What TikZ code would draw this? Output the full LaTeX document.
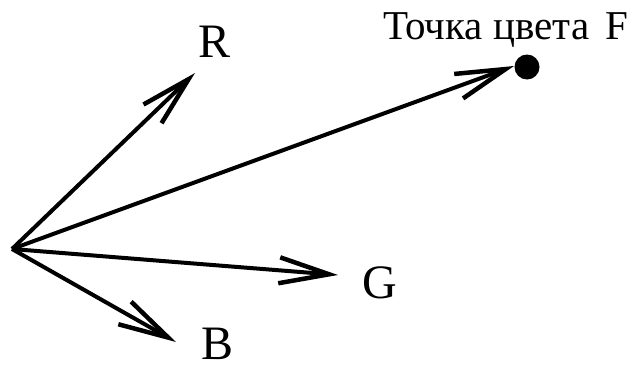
\documentclass[tikz,border=0pt]{standalone}
\usepackage{fontspec}
\setmainfont{Liberation Serif}
\usetikzlibrary{arrows.meta}
\begin{document}
\begin{tikzpicture}[x=1pt,y=-1pt,
  vec/.style={line width=4pt,-{Straight Barb[length=50pt,width=26pt,line width=4.5pt]}},
  big/.style={font=\fontsize{48}{48}\selectfont,inner sep=0pt},
  small/.style={font=\fontsize{41}{41}\selectfont,inner sep=0pt}]
  \useasboundingbox (0,0) rectangle (637,372);
  \coordinate (o) at (12,249);
  \coordinate (rt) at (195,73);
  \coordinate (ft) at (514,66);
  \coordinate (gt) at (338,275);
  \coordinate (bt) at (176,342);
  \node[big] (R) at (215,42) {R};
  \node[big] (G) at (380,283) {G};
  \node[big] (B) at (218,344) {B};
  \node[small] (F) at (506,30) {Точка цвета\hspace{0.15em} F};
  \fill (527,67) circle (12.5) node (dot) {};
  \draw[vec] (o) -- (rt);
  \draw[vec] (o) -- (ft);
  \draw[vec] (o) -- (gt);
  \draw[vec] (o) -- (bt);
\end{tikzpicture}
\end{document}
